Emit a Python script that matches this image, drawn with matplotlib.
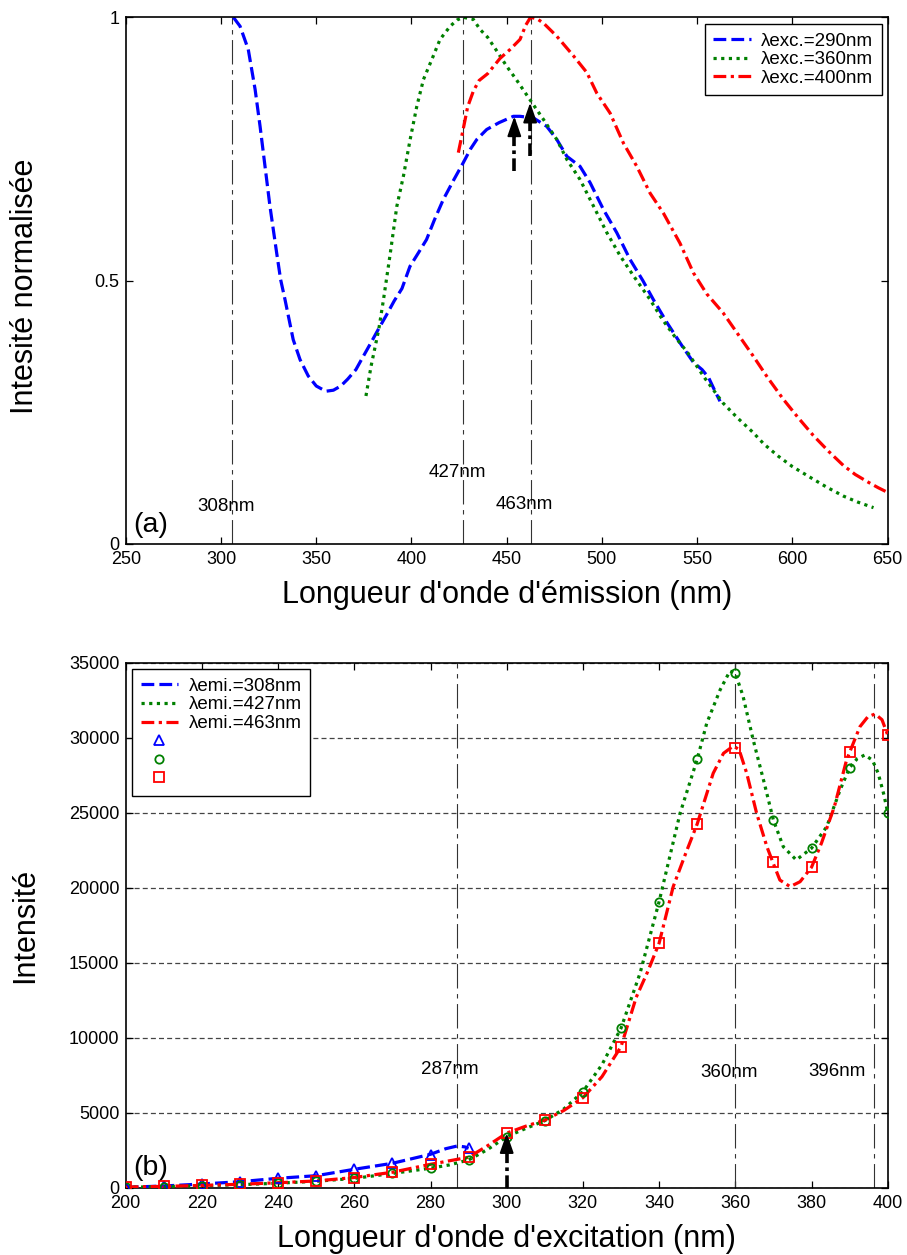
import matplotlib
matplotlib.use("Agg")
import matplotlib.pyplot as plt

plt.rcParams['font.family'] = ['Liberation Sans', 'DejaVu Sans']

# ---------------- Data (a): normalised emission spectra ----------------
em290_x = [306.5, 310, 314.3, 317.9, 320.5, 323.1, 325.7, 329.2, 331.3, 333.6, 337.9, 341.5,
           345.8, 350, 355, 359, 362.9, 366.5, 370.8, 374.5, 378.7, 382.5, 386.6, 391, 395,
           399.2, 403.5, 407.9, 412, 416.7, 422, 427.2, 431, 434.3, 439.5, 446, 453.5, 457,
           464, 471, 476.3, 481.6, 488.5, 493.8, 500.8, 507.8, 514.8, 521.5, 527, 534.2,
           542.1, 548, 552.6, 556, 559, 562]
em290_y = [1.0, 0.983, 0.939, 0.863, 0.793, 0.717, 0.641, 0.553, 0.502, 0.464, 0.388, 0.350,
           0.319, 0.300, 0.290, 0.292, 0.300, 0.313, 0.331, 0.355, 0.382, 0.407, 0.433, 0.462,
           0.485, 0.527, 0.552, 0.578, 0.615, 0.654, 0.690, 0.724, 0.750, 0.768, 0.787, 0.800,
           0.812, 0.812, 0.809, 0.793, 0.768, 0.736, 0.717, 0.686, 0.635, 0.591, 0.540, 0.500,
           0.464, 0.420, 0.376, 0.345, 0.331, 0.316, 0.293, 0.271]

em360_x = [376.1, 378.8, 382.8, 385.3, 388.8, 392.3, 395.8, 399.3, 402.8, 406.3, 410.7, 415,
           420.3, 424, 427.2, 432.5, 436, 440, 445, 450, 455, 462.3, 469.3, 476.3, 481.6,
           488.5, 495.5, 502.6, 509.6, 516.6, 525.3, 531.8, 538, 545.1, 554, 563.5, 571,
           579.3, 585, 592.5, 600, 611, 618, 626.8, 634, 642.6]
em360_y = [0.281, 0.338, 0.407, 0.464, 0.550, 0.641, 0.699, 0.768, 0.831, 0.882, 0.920, 0.958,
           0.983, 0.995, 1.0, 0.996, 0.977, 0.962, 0.935, 0.907, 0.882, 0.843, 0.806, 0.768,
           0.730, 0.692, 0.642, 0.591, 0.547, 0.509, 0.464, 0.426, 0.395, 0.363, 0.315, 0.268,
           0.240, 0.212, 0.190, 0.167, 0.147, 0.123, 0.108, 0.091, 0.080, 0.069]

em400_x = [424.6, 427.3, 429.5, 432.5, 435.5, 440, 446.5, 451.8, 457, 460, 462.5, 466, 469.3,
           476.3, 485, 492.1, 497.3, 504.3, 511.3, 518.3, 525.3, 532.3, 541, 548, 555, 563.6,
           571.5, 579.4, 587, 595.2, 603, 611, 619, 626.8, 633, 640, 645, 650]
em400_y = [0.743, 0.790, 0.830, 0.860, 0.880, 0.893, 0.922, 0.939, 0.958, 0.985, 1.0, 0.997,
           0.989, 0.964, 0.927, 0.895, 0.856, 0.818, 0.761, 0.717, 0.666, 0.628, 0.571, 0.515,
           0.475, 0.439, 0.398, 0.357, 0.316, 0.275, 0.240, 0.206, 0.176, 0.149, 0.132, 0.117,
           0.107, 0.098]

em_labels = ['λexc.=290nm', 'λexc.=360nm', 'λexc.=400nm']
em_marks = [306, 427, 463]
em_mark_text = ['308nm', '427nm', '463nm']
em_mark_text_x = [302.6, 424.0, 459.3]
em_mark_text_y = [0.0715, 0.136, 0.0753]
em_arrow_x = [454, 462.3]
em_arrow_y0 = [0.708, 0.736]
em_arrow_y1 = [0.812, 0.838]

# ---------------- Data (b): excitation spectra ----------------
ex_pts_x = [200, 210, 220, 230, 240, 250, 260, 270, 280, 290, 300, 310, 320, 330, 340, 350,
            360, 370, 380, 390, 400]
ex308_pts_x = [200, 210, 220, 230, 240, 250, 260, 270, 280, 290]
ex308_pts_y = [27, 113, 247, 400, 627, 800, 1227, 1627, 2200, 2627]
ex427_pts_y = [30, 70, 130, 200, 300, 430, 620, 950, 1300, 1850, 3400, 4470, 6400, 10630,
               19070, 28560, 34290, 24510, 22630, 28000, 25000]
ex463_pts_y = [40, 90, 150, 230, 330, 450, 680, 1030, 1560, 2030, 3640, 4510, 6000, 9400,
               16300, 24250, 29330, 21730, 21360, 29030, 30180]

ex308_line_x = [200, 210, 220, 230, 240, 250, 260, 270, 280, 284, 287, 289, 290]
ex308_line_y = [27, 113, 247, 400, 627, 800, 1227, 1627, 2227, 2600, 2780, 2720, 2627]

ex427_line_x = [200, 210, 220, 230, 240, 250, 260, 270, 280, 285, 290, 295, 300, 305, 310, 315,
                320, 325, 330, 335, 340, 345.5, 350, 352.5, 356, 358.6, 360, 362, 364.7, 367.4,
                370, 372.6, 376, 380, 384, 387.5, 390, 392, 394, 396, 397.5, 399, 400]
ex427_line_y = [30, 70, 130, 200, 300, 430, 620, 950, 1300, 1520, 1850, 2550, 3400, 3950, 4470,
                5250, 6400, 8200, 10630, 14300, 19070, 24960, 28560, 30960, 33180, 34450, 34290,
                32800, 29850, 27180, 24510, 22730, 21850, 22630, 24070, 26510, 28000, 28600, 28850,
                28500, 27630, 26200, 25000]

ex463_line_x = [200, 210, 220, 230, 240, 250, 260, 270, 280, 290, 295, 300, 305, 310, 315, 320,
                325, 330, 334, 337, 340, 343.7, 347, 350, 354.2, 356.9, 359.5, 361, 363, 365.6,
                368.3, 370, 371.7, 374.4, 377, 380, 382.6, 386, 389.2, 392.7, 394.8, 396.7, 398.5,
                400]
ex463_line_y = [40, 90, 150, 230, 330, 450, 680, 1030, 1560, 2030, 2800, 3640, 4100, 4510, 5150,
                6000, 7400, 9400, 12700, 14400, 16300, 20070, 22300, 24250, 27630, 28960, 29450,
                29200, 27630, 24960, 22730, 21600, 20510, 20070, 20400, 21360, 22960, 25400, 28510,
                30730, 31400, 31580, 31200, 30180]

ex_labels = ['λemi.=308nm', 'λemi.=427nm', 'λemi.=463nm']
ex_marks = [287, 360, 396.5]
ex_mark_text = ['287nm', '360nm', '396nm']
ex_mark_text_x = [285.0, 358.3, 386.7]
ex_mark_text_y = [7847, 7647, 7780]
ex_arrow_x = 300
ex_arrow_y0 = 0
ex_arrow_y1 = 3640

# ---------------- Styles ----------------
BLUE, GREEN, RED = '#0000ff', '#008000', '#ff0000'
LW = 2.3
DASH = (0, (4, 1.6))
DOT = (0, (1, 1.4))
DASHDOT = (0, (4, 1.4, 1, 1.4))
VLINE = (0, (22, 5, 4, 5))
TICKFS = 13
LABFS = 22
LEGFS = 13.5
ANNFS = 13.5

W, H = 907, 1255
fig = plt.figure(figsize=(W / 100, H / 100), dpi=100)
ax1 = fig.add_axes([125.8 / W, 1 - 544.0 / H, (887.6 - 125.8) / W, (544.0 - 17.3) / H])
ax2 = fig.add_axes([125.7 / W, 1 - 1187.7 / H, (887.7 - 125.7) / W, (1187.7 - 662.7) / H])


def style_axes(ax):
    for s in ax.spines.values():
        s.set_linewidth(1.2)
        s.set_color('black')
    ax.tick_params(direction='in', top=True, right=True, length=5, width=0.9,
                   labelsize=TICKFS, pad=5.0)
    ax.tick_params(axis='y', pad=4.5)


def arrow(ax, x, y0, y1, head):
    ax.plot([x, x], [y0, y1 - head * 0.9], color='black', lw=2.6, linestyle=(0, (3.5, 1.2, 1, 1.2)),
            solid_capstyle='butt', dash_capstyle='butt', zorder=6)
    ax.annotate('', xy=(x, y1), xytext=(x, y1 - head),
                arrowprops=dict(arrowstyle='-|>,head_length=1.2,head_width=0.42', color='black',
                                lw=1.5, shrinkA=0, shrinkB=0), zorder=7)


def make_legend(ax, handles, labels, loc, anchor):
    leg = ax.legend(handles=handles, labels=labels, loc=loc, bbox_to_anchor=anchor,
                    bbox_transform=fig.transFigure, borderaxespad=0, fancybox=False,
                    framealpha=1, edgecolor='black', fontsize=LEGFS, handlelength=2.0,
                    handletextpad=0.55, labelspacing=0.08, borderpad=0.45)
    leg.get_frame().set_linewidth(1.0)
    return leg


# ---------------- Panel (a) ----------------
style_axes(ax1)
for xm in em_marks:
    ax1.axvline(xm, color='#333333', lw=0.8, linestyle=VLINE, zorder=1)
l1, = ax1.plot(em290_x, em290_y, color=BLUE, lw=LW, linestyle=DASH)
l2, = ax1.plot(em360_x, em360_y, color=GREEN, lw=LW, linestyle=DOT)
l3, = ax1.plot(em400_x, em400_y, color=RED, lw=LW, linestyle=DASHDOT)
for t, tx, ty in zip(em_mark_text, em_mark_text_x, em_mark_text_y):
    ax1.text(tx, ty, t, fontsize=ANNFS, ha='center', va='center')
ax1.text(263.2, 0.037, '(a)', fontsize=20.5, ha='center', va='center')
for xa, ya0, ya1 in zip(em_arrow_x, em_arrow_y0, em_arrow_y1):
    arrow(ax1, xa, ya0, ya1, 0.04)
ax1.set_xlim(250, 650)
ax1.set_ylim(0, 1)
ax1.set_xticks(range(250, 651, 50))
ax1.set_yticks([0, 0.5, 1])
ax1.set_yticklabels(['0', '0.5', '1'])
ax1.set_xlabel("Longueur d'onde d'émission (nm)", fontsize=LABFS, va='baseline')
ax1.xaxis.set_label_coords(0.5, -59.3 / 526.7)
ax1.set_ylabel('Intesité normalisée', fontsize=LABFS, va='baseline')
ax1.yaxis.set_label_coords(-(125.8 - 33.3) / 761.8, 0.49)
make_legend(ax1, [l1, l2, l3], em_labels, 'upper right', (881.7 / W, 1 - 24.0 / H))

# ---------------- Panel (b) ----------------
style_axes(ax2)
ax2.set_xlim(200, 400)
ax2.set_ylim(0, 35000)
ax2.set_xticks(range(200, 401, 20))
ax2.set_yticks(range(0, 35001, 5000))
ax2.yaxis.grid(True, color='#444444', lw=0.9, linestyle=(0, (4, 2.5)))
ax2.set_axisbelow(True)
for xm in ex_marks:
    ax2.axvline(xm, color='#333333', lw=0.8, linestyle=VLINE, zorder=1)
b1, = ax2.plot(ex308_line_x, ex308_line_y, color=BLUE, lw=LW, linestyle=DASH, zorder=3)
b2, = ax2.plot(ex427_line_x, ex427_line_y, color=GREEN, lw=LW, linestyle=DOT, zorder=3)
b3, = ax2.plot(ex463_line_x, ex463_line_y, color=RED, lw=LW, linestyle=DASHDOT, zorder=3)
m1, = ax2.plot(ex308_pts_x, ex308_pts_y, linestyle='none', marker='^', ms=6.5, mfc='none',
               mec=BLUE, mew=1.3, zorder=4)
m2, = ax2.plot(ex_pts_x, ex427_pts_y, linestyle='none', marker='o', ms=6, mfc='none',
               mec=GREEN, mew=1.3, zorder=4)
m3, = ax2.plot(ex_pts_x, ex463_pts_y, linestyle='none', marker='s', ms=6.5, mfc='none',
               mec=RED, mew=1.3, zorder=4)
for t, tx, ty in zip(ex_mark_text, ex_mark_text_x, ex_mark_text_y):
    ax2.text(tx, ty, t, fontsize=ANNFS, ha='center', va='center')
ax2.text(206.6, 1313, '(b)', fontsize=20.5, ha='center', va='center')
arrow(ax2, ex_arrow_x, ex_arrow_y0, ex_arrow_y1, 1350)
ax2.set_xlabel("Longueur d'onde d'excitation (nm)", fontsize=LABFS, va='baseline')
ax2.xaxis.set_label_coords(0.5, -59.3 / 525.0)
ax2.set_ylabel('Intensité', fontsize=LABFS, va='baseline')
ax2.yaxis.set_label_coords(-(125.7 - 33.3) / 762.0, 0.5)
make_legend(ax2, [b1, b2, b3, m1, m2, m3], ex_labels + ['', '', ''], 'upper left',
            (132.3 / W, 1 - 669.3 / H))

fig.savefig('out.png', dpi=100)
